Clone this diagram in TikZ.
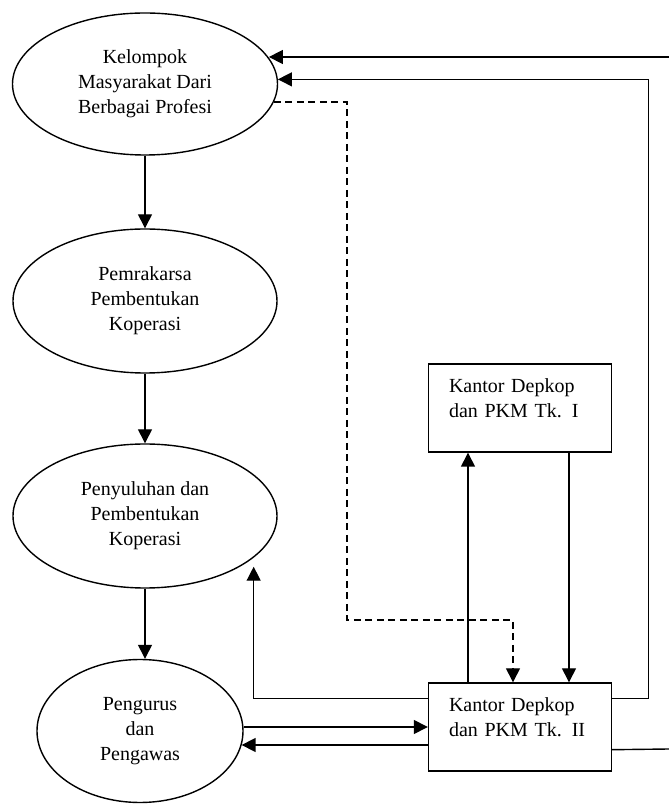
\documentclass[tikz,border=0pt]{standalone}
\usepackage{fontspec}
\setmainfont{Liberation Serif}
\usetikzlibrary{shapes.geometric, arrows.meta, calc}
\tikzset{
	arrow/.style={line width=1.4pt, -{Triangle[length=14pt, width=14pt]}},
	dasharrow/.style={arrow, dash pattern=on 7pt off 4.5pt},
	plain/.style={line width=1.4pt},
	bubble/.style={draw, ellipse, line width=1.4pt, inner sep=0pt, align=center, font=\fontsize{20}{25}\selectfont},
	office/.style={draw, rectangle, line width=1.4pt, minimum width=183pt, minimum height=88pt, inner xsep=20pt, text width=142pt, text depth=44pt, align=left, font=\fontsize{20}{25}\selectfont},
}

\begin{document}
\begin{tikzpicture}[x=1pt, y=1pt]
	\useasboundingbox (0,0) rectangle (669,804);

	% Left column
	\node[bubble, minimum width=265pt, minimum height=142pt] (kel) at (145,720) {Kelompok\\Masyarakat Dari\\Berbagai Profesi};
	\node[bubble, minimum width=264pt, minimum height=144pt] (pem) at (145,503) {Pemrakarsa\\Pembentukan\\Koperasi};
	\node[bubble, minimum width=264pt, minimum height=144pt] (pen) at (145,288) {Penyuluhan dan\\Pembentukan\\Koperasi};
	\node[bubble, minimum width=206pt, minimum height=143pt] (peng) at (140,73) {Pengurus\\dan\\Pengawas};

	% Offices
	\node[office] (tkI) at (520,396) {Kantor Depkop\\dan PKM Tk. I};
	\node[office] (tkII) at (520,77) {Kantor Depkop\\dan PKM Tk. II};

	\coordinate (inA) at (669,747);
	\coordinate (outB) at (669,55);
	\coordinate (backL) at ([yshift=-18pt]tkII.west);

	\draw[arrow] (kel.south) -- (pem.north);
	\draw[arrow] (pem.south) -- (pen.north);
	\draw[arrow] (pen.south) -- (pen.south |- peng.north);

	\draw[arrow] (inA) -- (inA -| kel.12);
	\draw[arrow] ([yshift=-16pt]tkII.north east) -- ++(36,0) |- (kel.2);
	\draw[plain] ([yshift=22pt]tkII.south east) -- (outB);
	\draw[dasharrow] (kel.-8) -| (347,184) -| ([xshift=-7pt]tkII.north);

	\draw[arrow] ([xshift=-52pt]tkII.north) -- ([xshift=-52pt]tkI.south);
	\draw[arrow] ([xshift=49pt]tkI.south) -- ([xshift=49pt]tkII.north);

	\draw[arrow] ([yshift=-16pt]tkII.north west) -| ([yshift=-9pt]pen.-21);
	\draw[arrow] (peng.east |- tkII.west) -- (tkII.west);
	\draw[arrow] (backL) -- (backL -| peng.-8);
\end{tikzpicture}
\end{document}
